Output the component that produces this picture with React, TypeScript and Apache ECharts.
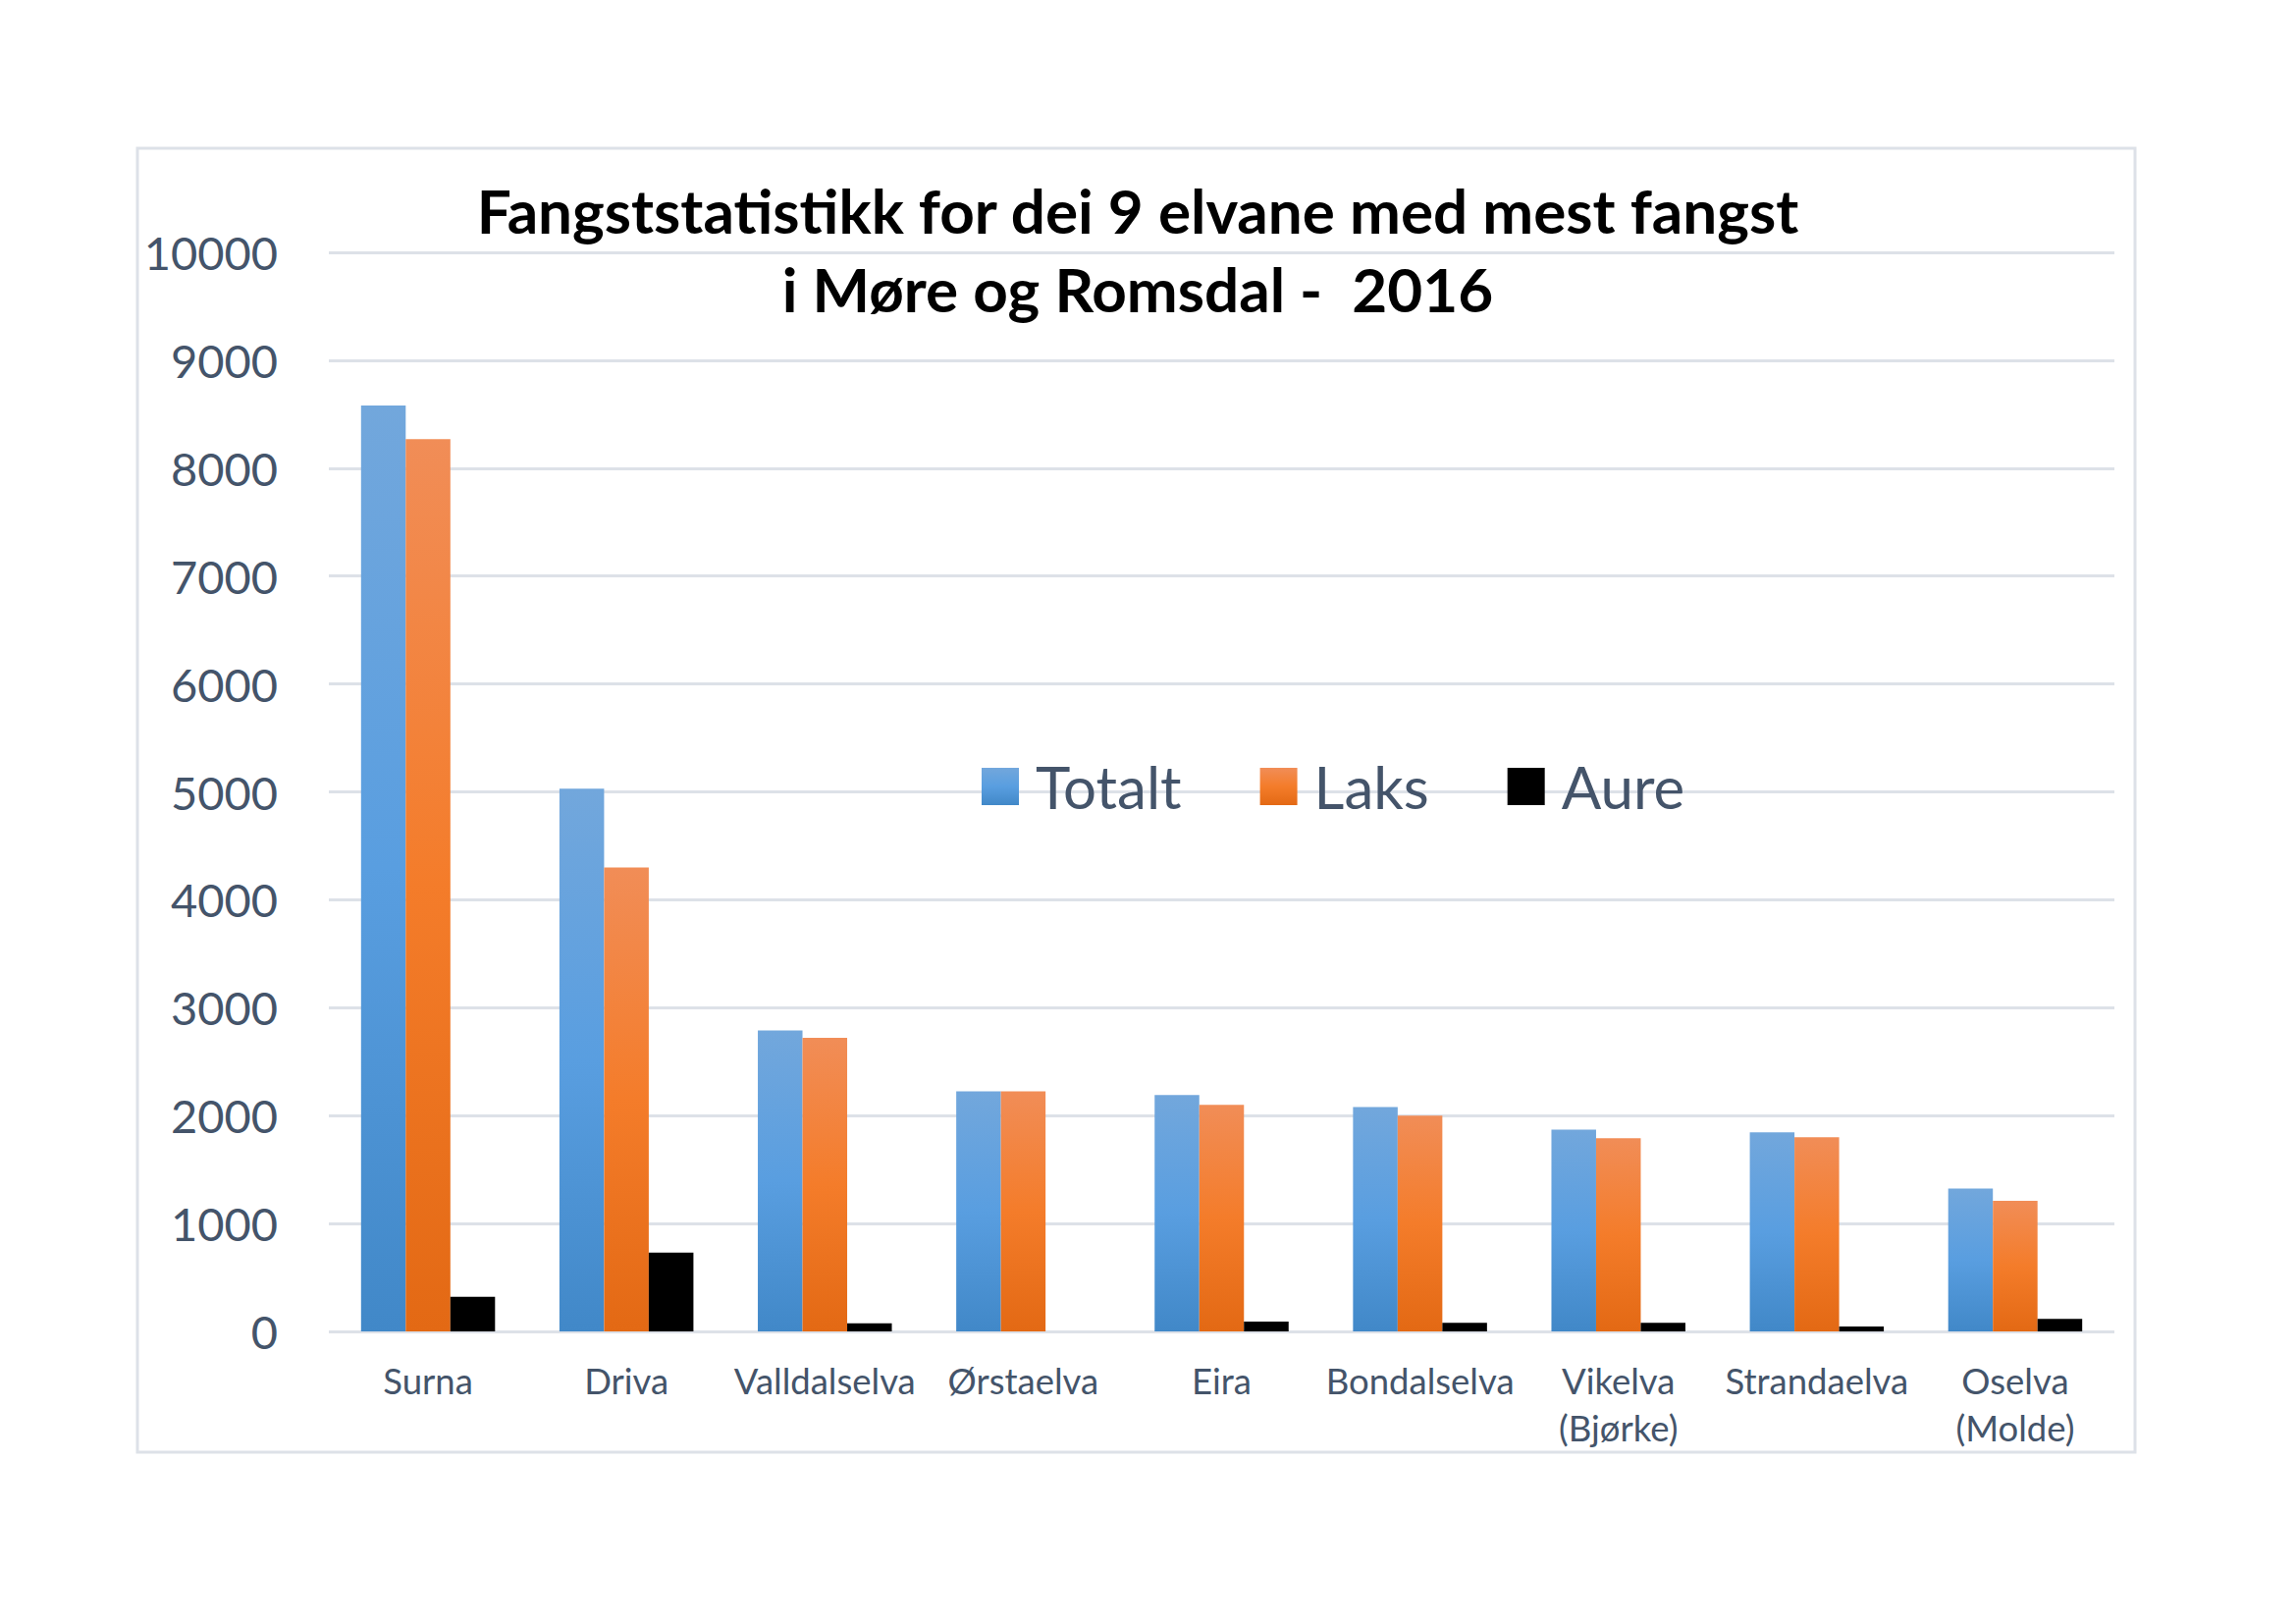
import React, { useEffect, useRef } from "react";
import * as echarts from "echarts";

const categories = [
  "Surna",
  "Driva",
  "Valldalselva",
  "Ørstaelva",
  "Eira",
  "Bondalselva",
  "Vikelva\n(Bjørke)",
  "Strandaelva",
  "Oselva\n(Molde)",
];
const totalt = [8580, 5030, 2790, 2225, 2190, 2080, 1870, 1845, 1325];
const laks = [8270, 4300, 2720, 2225, 2100, 2000, 1790, 1800, 1210];
const aure = [320, 730, 75, 0, 90, 80, 80, 45, 115];
const seriesNames = ["Totalt", "Laks", "Aure"];
const titleLines = [
  "Fangststatistikk for dei 9 elvane med mest fangst",
  "i Møre og Romsdal -  2016",
];

const FONT = "Lato, 'Open Sans', sans-serif";
const TEXT_COLOR = "#44546a";
const GRID_COLOR = "#dde1e8";

export default function App() {
  const ref = useRef<HTMLDivElement>(null);

  useEffect(() => {
    document.body.style.margin = "0";
    if (!ref.current) return;
    const chart = echarts.init(ref.current, undefined, { renderer: "svg" });

    const blueGrad = new echarts.graphic.LinearGradient(0, 0, 0, 1, [
      { offset: 0, color: "#72a7dc" },
      { offset: 0.5, color: "#599ee0" },
      { offset: 1, color: "#4188c8" },
    ]);
    const orangeGrad = new echarts.graphic.LinearGradient(0, 0, 0, 1, [
      { offset: 0, color: "#f18d57" },
      { offset: 0.5, color: "#f47c2a" },
      { offset: 1, color: "#e36914" },
    ]);

    chart.setOption({
      animation: false,
      backgroundColor: "#ffffff",
      textStyle: { fontFamily: FONT },
      graphic: [
        {
          type: "rect",
          z: -10,
          silent: true,
          shape: { x: 140, y: 151, width: 2035, height: 1328 },
          style: { fill: "none", stroke: GRID_COLOR, lineWidth: 3 },
        },
        {
          type: "text",
          x: 1159,
          y: 214,
          style: {
            text: titleLines[0],
            font: `bold 62px ${FONT}`,
            fill: "#000000",
            align: "center",
            verticalAlign: "middle",
            textAlign: "center",
            textVerticalAlign: "middle",
          },
        },
        {
          type: "text",
          x: 1159,
          y: 294,
          style: {
            text: titleLines[1],
            font: `bold 62px ${FONT}`,
            fill: "#000000",
            align: "center",
            verticalAlign: "middle",
            textAlign: "center",
            textVerticalAlign: "middle",
          },
        },
      ],
      legend: {
        left: 995,
        top: 766,
        itemWidth: 38,
        itemHeight: 38,
        itemGap: 80,
        icon: "rect",
        data: seriesNames,
        textStyle: {
          fontFamily: FONT,
          fontSize: 60,
          lineHeight: 60,
          color: TEXT_COLOR,
          padding: [0, 0, 0, 12],
        },
      },
      grid: { left: 335, right: 185, top: 257, bottom: 298, containLabel: false },
      xAxis: {
        type: "category",
        data: categories,
        axisLine: { show: false },
        axisTick: { show: false },
        splitLine: { show: false },
        axisLabel: {
          interval: 0,
          margin: 26,
          fontFamily: FONT,
          fontSize: 36.5,
          lineHeight: 48,
          color: TEXT_COLOR,
        },
      },
      yAxis: {
        type: "value",
        min: 0,
        max: 10000,
        interval: 1000,
        axisLine: { show: false },
        axisTick: { show: false },
        splitLine: { show: true, lineStyle: { color: GRID_COLOR, width: 3 } },
        axisLabel: {
          margin: 52,
          fontFamily: FONT,
          fontSize: 47,
          color: TEXT_COLOR,
          formatter: (v: number) => String(v),
        },
      },
      series: [
        {
          name: seriesNames[0],
          type: "bar",
          data: totalt,
          barWidth: 45.5,
          barGap: "0%",
          itemStyle: { color: blueGrad },
        },
        {
          name: seriesNames[1],
          type: "bar",
          data: laks,
          barWidth: 45.5,
          barGap: "0%",
          itemStyle: { color: orangeGrad },
        },
        {
          name: seriesNames[2],
          type: "bar",
          data: aure,
          barWidth: 45.5,
          barGap: "0%",
          itemStyle: { color: "#000000" },
        },
      ],
    });

    return () => {
      chart.dispose();
    };
  }, []);

  return <div ref={ref} style={{ width: 2339, height: 1654 }} />;
}
